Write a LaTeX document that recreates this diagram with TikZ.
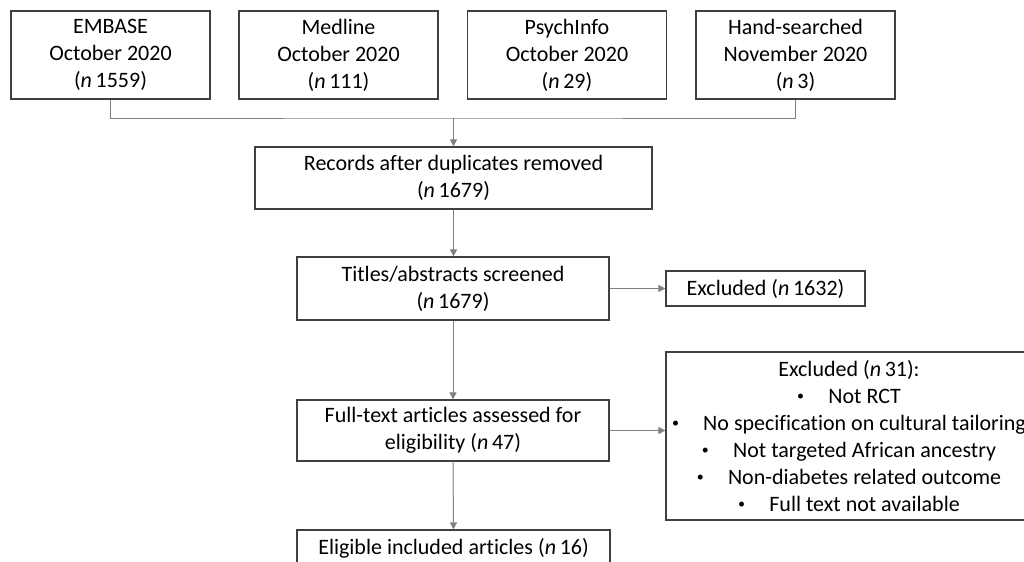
\documentclass[tikz,border=0pt]{standalone}
\usepackage{fontspec}
\setmainfont[Ligatures=NoCommon]{Carlito}
\usetikzlibrary{arrows.meta}
\tikzset{
  box/.style={draw=black!75, line width=.6pt, align=center, inner sep=0pt,
    font=\fontsize{11}{13.5}\selectfont},
  link/.style={draw=black!50, line width=.5pt},
  >={Triangle[length=3.5pt,width=3.5pt]}
}
\newcommand{\nof}[1]{(\textit{n}\,#1)}
\newcommand{\bul}{\raisebox{.25ex}{\scriptsize\textbullet}\hspace{1.1em}}
\begin{document}
\begin{tikzpicture}[x=.5pt, y=-.5pt]
\useasboundingbox (0,0) rectangle (1024,562);
\clip (0,0) rectangle (1024,562);
% sources
\node[box, minimum width=99.5pt, minimum height=44pt] (embase) at (110.5,55) {EMBASE\\October 2020\\\nof{1559}};
\node[box, minimum width=99.5pt, minimum height=44pt] (medline) at (338.5,55) {Medline\\October 2020\\\nof{111}};
\node[box, minimum width=99.5pt, minimum height=44pt] (psych) at (567,55) {PsychInfo\\October 2020\\\nof{29}};
\node[box, minimum width=99.5pt, minimum height=44pt] (hand) at (795.5,55) {Hand-searched\\November 2020\\\nof{3}};
\coordinate (join) at (453.5,118);
% main column
\node[box, minimum width=198.5pt, minimum height=31pt] (records) at (453.5,178) {Records after duplicates removed\\\nof{1679}};
\node[box, minimum width=156pt, minimum height=31.5pt] (titles) at (453,288.5) {Titles/abstracts screened\\\nof{1679}};
\node[box, minimum width=156pt, minimum height=30.5pt] (fulltext) at (453,430.5) {Full-text articles assessed for\\eligibility \nof{47}};
\node[box, minimum width=156.5pt, minimum height=18pt] (eligible) at (453.5,548) {Eligible included articles \nof{16}};
% exclusions
\node[box, minimum width=99.5pt, minimum height=17.5pt] (excla) at (765.5,288.5) {Excluded \nof{1632}};
\node[box, minimum width=183pt, minimum height=84pt] (exclb) at (849,436) {Excluded \nof{31}:\\
  \bul Not RCT\\
  \bul No specification on cultural tailoring\\
  \bul Not targeted African ancestry\\
  \bul Non-diabetes related outcome\\
  \bul Full text not available};
% connectors
\draw[link] (embase.south) |- (join) -| (hand.south);
\draw[link, ->] (join) -- (records.north);
\draw[link, ->] (records.south) -- (records.south |- titles.north);
\draw[link, ->] (titles.east) -- (excla.west);
\draw[link, ->] (titles.south) -- (fulltext.north);
\draw[link, ->] (fulltext.east) -- (fulltext.east -| exclb.west);
\draw[link, ->] (fulltext.south) -- (eligible.north);
\end{tikzpicture}
\end{document}
